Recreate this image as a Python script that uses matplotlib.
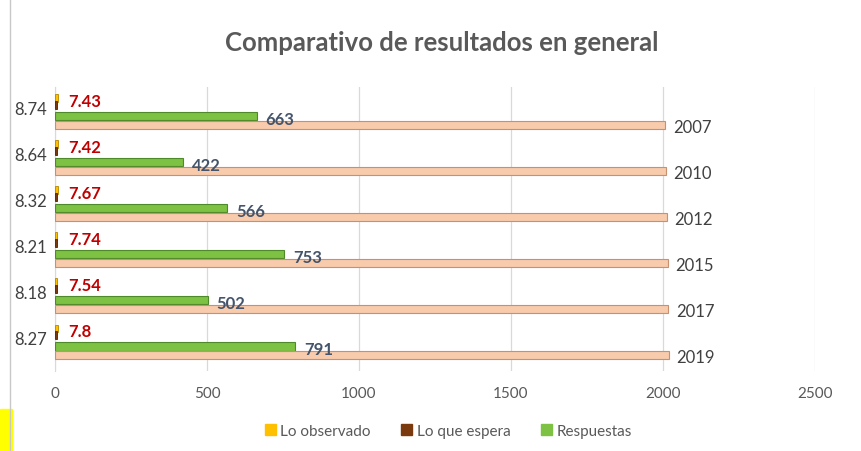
import matplotlib.pyplot as plt
from matplotlib.patches import Rectangle
from matplotlib.lines import Line2D

plt.rcParams["font.family"] = ["Lato", "DejaVu Sans"]

years = ["2007", "2010", "2012", "2015", "2017", "2019"]
year_values = [2007, 2010, 2012, 2015, 2017, 2019]
observado = [8.74, 8.64, 8.32, 8.21, 8.18, 8.27]
espera = [7.43, 7.42, 7.67, 7.74, 7.54, 7.8]
respuestas = [663, 422, 566, 753, 502, 791]

c_obs = "#FFC000"
c_esp = "#7B3A0E"
c_resp = "#7DC242"
c_year = "#F8CBAD"

fig = plt.figure(figsize=(8.62, 4.52), dpi=100)
ax = fig.add_axes([55 / 862, 1 - 372 / 452, (815 - 55) / 862, (372 - 88) / 452])

pos = list(range(len(years)))
h = 0.16
ax.barh([p - 0.28 for p in pos], observado, height=h, color=c_obs, edgecolor="#B58500", linewidth=0.6, zorder=3)
ax.barh([p - 0.13 for p in pos], espera, height=h, color=c_esp, edgecolor="#4A2005", linewidth=0.6, zorder=3)
ax.barh([p + 0.11 for p in pos], respuestas, height=0.19, color=c_resp, edgecolor="#4F8A2A", linewidth=0.8, zorder=3)
ax.barh([p + 0.30 for p in pos], year_values, height=0.17, color=c_year, edgecolor="#C8906E", linewidth=0.8, zorder=3)

for p, o, e, r, yv, yl in zip(pos, observado, espera, respuestas, year_values, years):
    ax.text(-25, p - 0.05, f"{o:g}", ha="right", va="center", fontsize=12, color="#404040", clip_on=False)
    ax.text(45, p - 0.22, f"{e:g}", ha="left", va="center", fontsize=12, fontweight="bold", color="#C00000")
    ax.text(r + 30, p + 0.17, str(r), ha="left", va="center", fontsize=12, fontweight="bold", color="#44546A")
    ax.text(yv + 25, p + 0.35, yl, ha="left", va="center", fontsize=12, color="#404040")

ax.set_xlim(0, 2500)
ax.set_ylim(5.65, -0.52)
ax.set_xticks([0, 500, 1000, 1500, 2000, 2500])
ax.set_yticks([])
ax.tick_params(axis="x", length=0, pad=11, labelsize=11, labelcolor="#595959")
ax.grid(axis="x", color="#D9D9D9", linewidth=0.9, zorder=0)
for s in ["top", "right", "bottom"]:
    ax.spines[s].set_visible(False)
ax.spines["left"].set_color("#D9D9D9")

fig.text(0.512, 1 - 43 / 452, "Comparativo de resultados en general", ha="center", va="center",
         fontsize=18.5, fontweight="bold", color="#595959")

handles = [Rectangle((0, 0), 1, 1, color=c) for c in (c_obs, c_esp, c_resp)]
fig.legend(handles, ["Lo observado", "Lo que espera", "Respuestas"], loc="center",
           bbox_to_anchor=(0.52, 1 - 432 / 452), ncol=3, frameon=False, fontsize=11,
           handlelength=0.7, handleheight=0.7, handletextpad=0.3, columnspacing=2.0,
           labelcolor="#595959")

fig.add_artist(Line2D([10 / 862, 10 / 862], [0, 1], color="#C8C8C8", linewidth=1))
fig.add_artist(Rectangle((0, 0), 12 / 862, 42 / 452, color="#FFFF00", transform=fig.transFigure))

fig.savefig("out.png", dpi=100)
